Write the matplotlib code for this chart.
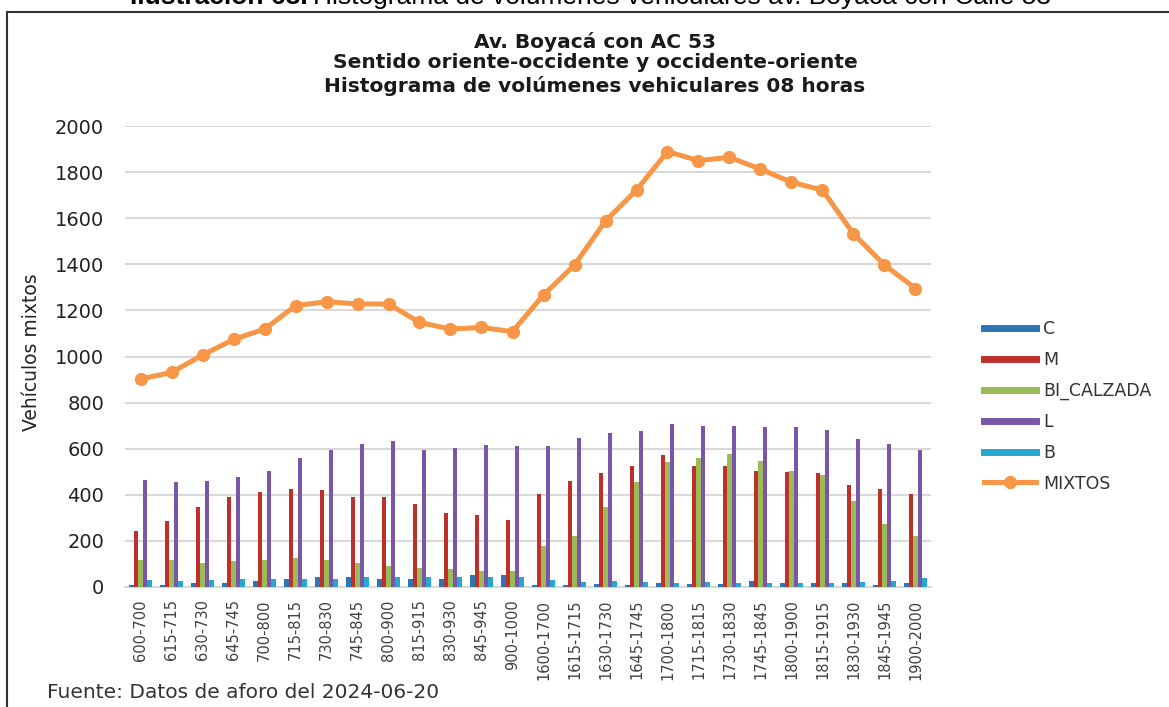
import matplotlib
matplotlib.use("Agg")
import matplotlib.pyplot as plt
from matplotlib.lines import Line2D
import numpy as np

categories = ["600-700", "615-715", "630-730", "645-745", "700-800", "715-815", "730-830",
              "745-845", "800-900", "815-915", "830-930", "845-945", "900-1000",
              "1600-1700", "1615-1715", "1630-1730", "1645-1745", "1700-1800", "1715-1815",
              "1730-1830", "1745-1845", "1800-1900", "1815-1915", "1830-1930", "1845-1945",
              "1900-2000"]
C = [10, 7, 19, 19, 28, 36, 42, 42, 36, 36, 36, 51, 51,
     7, 10, 13, 7, 16, 13, 13, 26, 16, 16, 19, 7, 16]
M = [243, 287, 345, 389, 411, 425, 421, 392, 389, 360, 323, 313, 290,
     403, 459, 494, 527, 571, 527, 527, 505, 500, 496, 444, 425, 403]
BI_CALZADA = [115, 115, 105, 112, 115, 127, 115, 102, 93, 83, 79, 68, 71,
              176, 220, 348, 454, 542, 560, 578, 545, 504, 486, 372, 274, 220]
L = [465, 454, 459, 476, 502, 561, 596, 619, 632, 596, 604, 615, 610,
     610, 648, 666, 677, 706, 697, 697, 692, 692, 679, 640, 622, 596]
B = [31, 28, 29, 36, 36, 36, 36, 42, 42, 45, 45, 45, 45,
     32, 22, 28, 23, 16, 23, 16, 16, 16, 16, 23, 28, 37]
MIXTOS = [902, 931, 1006, 1074, 1119, 1220, 1238, 1228, 1228, 1148, 1119, 1126, 1108,
          1267, 1397, 1588, 1722, 1889, 1850, 1864, 1813, 1756, 1722, 1532, 1397, 1295]

series_names = ["C", "M", "BI_CALZADA", "L", "B"]
series_vals = [C, M, BI_CALZADA, L, B]
series_cols = ["#2E75B6", "#C0302A", "#9BBB59", "#7A56A8", "#2AA7CF"]
orange = "#F79646"

W, H = 1169, 707
fig = plt.figure(figsize=(W / 100, H / 100), dpi=100)
fig.patch.set_facecolor("white")

ax_l, ax_r, ax_t, ax_b = 125, 931, 126, 587
ax = fig.add_axes([ax_l / W, 1 - ax_b / H, (ax_r - ax_l) / W, (ax_b - ax_t) / H])

x = np.arange(len(categories))
bw = 0.135
step = 0.145
for i, (name, vals, col) in enumerate(zip(series_names, series_vals, series_cols)):
    ax.bar(x + (i - 2) * step, vals, width=bw, color=col, zorder=3, linewidth=0)

ax.plot(x, MIXTOS, color=orange, lw=3.6, marker="o", markersize=8.5, zorder=4,
        solid_joinstyle="round")

ax.set_xlim(-0.5, len(categories) - 0.5)
ax.set_ylim(0, 2000)
ax.set_yticks(np.arange(0, 2001, 200))
ax.grid(axis="y", color="#D9D9D9", lw=1.5, zorder=0)
ax.set_axisbelow(True)
for s in ["top", "right", "left"]:
    ax.spines[s].set_visible(False)
ax.spines["bottom"].set_color("#D9D9D9")
ax.spines["bottom"].set_linewidth(1.5)
ax.tick_params(axis="y", length=0, pad=15, labelsize=14, labelcolor="#222222")
ax.tick_params(axis="x", length=0, pad=9, labelsize=10.5, labelcolor="#404040")
ax.set_xticks(x)
ax.set_xticklabels(categories, rotation=90)
ax.set_ylabel("Vehículos mixtos", fontsize=13.5, color="#222222")
ax.yaxis.set_label_coords(-(ax_l - 41) / (ax_r - ax_l), 0.51)

# titles
for txt, yy in [("Av. Boyacá con AC 53", 42),
                ("Sentido oriente-occidente y occidente-oriente", 63),
                ("Histograma de volúmenes vehiculares 08 horas", 86)]:
    fig.text(595 / W, 1 - yy / H, txt, ha="center", va="center", fontsize=14.5,
             fontweight="bold", color="#1a1a1a")

# legend
handles = [Line2D([], [], color=c, lw=5) for c in series_cols]
handles.append(Line2D([], [], color=orange, lw=3.6, marker="o", markersize=8.5))
leg = fig.legend(handles, series_names + ["MIXTOS"], loc="upper left",
                 bbox_to_anchor=(984 / W, 1 - 320 / H), frameon=False,
                 fontsize=12.5, handlelength=3.0, handletextpad=0.4,
                 labelspacing=0.74, borderpad=0, borderaxespad=0)
for t in leg.get_texts():
    t.set_color("#333333")

# source
fig.text(47 / W, 1 - 692 / H, "Fuente: Datos de aforo del 2024-06-20", ha="left",
         va="center", fontsize=14.5, color="#333333")

# border
fig.add_artist(Line2D([7 / W, 7 / W], [0, 1 - 12 / H], color="#333333", lw=1.5,
                      transform=fig.transFigure))
fig.add_artist(Line2D([7 / W, 1], [1 - 12 / H, 1 - 12 / H], color="#333333", lw=1.5,
                      transform=fig.transFigure))

# caption (clipped at top edge, as in the reference)
t1 = fig.text(130 / W, 1 - 4 / H, "Ilustración 68.", ha="left", va="baseline",
              fontsize=19, fontweight="bold", family="Liberation Sans", color="black")
fig.canvas.draw()
bb = t1.get_window_extent(renderer=fig.canvas.get_renderer())
fig.text(bb.x1 / W + 5 / W, 1 - 4 / H,
         "Histograma de volúmenes vehiculares av. Boyacá con Calle 53",
         ha="left", va="baseline", fontsize=19, family="Liberation Sans", color="black")

fig.savefig("out.png", dpi=100, facecolor="white")
